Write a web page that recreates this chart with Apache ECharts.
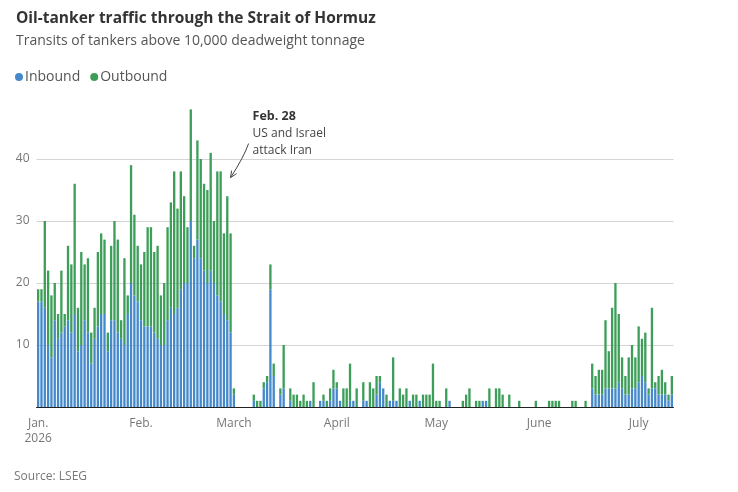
<!DOCTYPE html>
<html>
<head>
<meta charset="utf-8">
<title>Oil-tanker traffic through the Strait of Hormuz</title>
<script src="https://cdn.jsdelivr.net/npm/echarts@6/dist/echarts.min.js"></script>
<style>
  html, body { margin: 0; padding: 0; background: #fff; }
  #chart { width: 738px; height: 492px; }
</style>
</head>
<body>
<div id="chart"></div>
<script>
// daily transits (Jan 1 - Jul 11, 2026)
var inboundJan = [17,17,16,10,8,14,11,12,13,14,12,15,9,10,14,12,7,11,13,15,15,9,14,14,12,11,10,15,20,18,17]
var outboundJan = [2,2,14,12,10,6,4,10,2,12,11,21,7,15,9,12,5,5,12,13,12,3,12,16,15,3,14,3,19,13,9]
var inboundFeb = [14,13,13,13,12,11,10,10,14,16,15,16,19,20,20,30,24,27,24,22,20,22,20,18,17,15,14,12]
var outboundFeb = [9,12,16,16,13,15,8,10,15,17,23,16,19,14,9,18,2,16,16,14,15,19,10,20,21,13,20,16]
var inboundMar = [2,0,0,0,0,0,1,0,0,3,4,19,5,0,2,3,0,1,0,0,0,0,0,1,0,0,1,1,0,1,3]
var outboundMar = [1,0,0,0,0,0,1,1,1,1,1,4,2,0,1,7,0,2,2,2,1,2,1,0,4,0,0,1,1,2,3]
var inboundApr = [3,1,0,0,1,1,0,0,1,1,0,0,2,4,3,0,1,1,1,0,0,0,1,0,0,1,0,0,0,0]
var outboundApr = [1,0,3,3,6,0,3,0,3,0,4,3,3,1,0,2,0,7,0,3,2,3,0,2,2,0,2,2,2,7]
var inboundMay = [0,0,0,0,1,0,0,0,0,0,0,0,0,0,1,1,0,0,0,0,0,0,0,0,0,0,0,0,0,0,0]
var outboundMay = [1,1,0,3,0,0,0,0,1,2,3,0,1,1,0,0,3,0,3,3,2,0,2,0,0,1,0,0,0,0,1]
var inboundJun = [0,0,0,0,0,0,0,0,0,0,0,0,0,0,0,0,3,2,2,2,3,3,3,3,4,3,2,2,3,3]
var outboundJun = [0,0,0,1,1,1,1,0,0,0,1,1,0,0,1,0,4,3,4,4,11,6,13,17,11,5,3,6,7,5]
var inboundJul = [4,5,4,2,3,3,2,2,2,1,2]
var outboundJul = [9,6,8,1,13,1,3,4,2,1,3]

var monthLabels = ['Jan.\n2026', 'Feb.', 'March', 'April', 'May', 'June', 'July']
var yTicks = [10, 20, 30, 40]

var inbound = [].concat(inboundJan, inboundFeb, inboundMar, inboundApr, inboundMay, inboundJun, inboundJul)
var outbound = [].concat(outboundJan, outboundFeb, outboundMar, outboundApr, outboundMay, outboundJun, outboundJul)

// one category per day starting Jan 1
var days = []
for (var i = 0; i < inbound.length; i++) {
  var d = new Date(Date.UTC(2026, 0, 1 + i))
  days.push(d.toISOString().slice(0, 10))
}

var BLUE = '#4589cb'
var GREEN = '#3d9e59'
var FONT = 'Open Sans'

var chart = echarts.init(document.getElementById('chart'))

chart.setOption({
  animation: false,
  textStyle: { fontFamily: FONT },
  title: {
    text: 'Oil-tanker traffic through the Strait of Hormuz',
    subtext: 'Transits of tankers above 10,000 deadweight tonnage',
    left: 11,
    top: 6,
    itemGap: 7,
    textStyle: { fontSize: 15.5, fontWeight: 'bold', color: '#333', fontFamily: FONT },
    subtextStyle: { fontSize: 14, color: '#555', fontFamily: FONT }
  },
  legend: {
    left: 10,
    top: 65,
    icon: 'circle',
    itemWidth: 8,
    itemHeight: 8,
    itemGap: 10,
    textStyle: { fontSize: 14, color: '#555', padding: [0, 0, 0, -3] },
    data: ['Inbound', 'Outbound']
  },
  grid: {
    left: 36.5,
    right: 64.5,
    top: 97,
    bottom: 85
  },
  xAxis: {
    type: 'category',
    data: days,
    axisLine: { lineStyle: { color: '#222', width: 1 } },
    axisTick: { show: false },
    axisLabel: {
      interval: function (idx, val) { return val.slice(8) === '01' },
      formatter: function (val) { return monthLabels[+val.slice(5, 7) - 1] },
      color: '#777',
      fontSize: 12,
      lineHeight: 15,
      margin: 9
    }
  },
  yAxis: {
    type: 'value',
    min: 0,
    max: 50,
    interval: 10,
    axisLine: { show: false },
    axisTick: { show: false },
    axisLabel: {
      color: '#777',
      fontSize: 12,
      margin: 7,
      showMinLabel: false,
      showMaxLabel: false,
      formatter: function (v) { return yTicks.indexOf(v) >= 0 ? v : '' }
    },
    splitLine: { lineStyle: { color: '#d4d4d4' }, showMaxLine: false }
  },
  series: [
    {
      name: 'Inbound',
      type: 'bar',
      stack: 'total',
      barCategoryGap: '30%',
      itemStyle: { color: BLUE },
      data: inbound
    },
    {
      name: 'Outbound',
      type: 'bar',
      stack: 'total',
      barCategoryGap: '30%',
      itemStyle: { color: GREEN },
      data: outbound
    }
  ]
})

// annotation hangs off the Feb. 28 bar
var noteDay = '2026-02-28'
var tip = chart.convertToPixel({ xAxisIndex: 0, yAxisIndex: 0 }, [noteDay, 37])

chart.setOption({
  graphic: [
    {
      type: 'text',
      left: tip[0] + 22,
      top: tip[1] - 70,
      style: {
        text: '{b|Feb. 28}\nUS and Israel\nattack Iran',
        rich: { b: { fontWeight: 'bold', fontSize: 12.5, fill: '#333', fontFamily: FONT } },
        font: '12px "Open Sans"',
        fill: '#444',
        lineHeight: 17
      }
    },
    {
      type: 'bezierCurve',
      shape: {
        x1: tip[0] + 18, y1: tip[1] - 34,
        cpx1: tip[0] + 13, cpy1: tip[1] - 20,
        x2: tip[0], y2: tip[1]
      },
      style: { stroke: '#444', lineWidth: 1, fill: null }
    },
    {
      type: 'polyline',
      shape: { points: [[tip[0] + 1, tip[1] - 7], [tip[0], tip[1]], [tip[0] + 6, tip[1] - 4]] },
      style: { stroke: '#444', lineWidth: 1, fill: null }
    },
    {
      type: 'text',
      left: 14,
      top: 471,
      style: { text: 'Source: LSEG', font: '12px "Open Sans"', fill: '#777' }
    }
  ]
})
</script>
</body>
</html>
